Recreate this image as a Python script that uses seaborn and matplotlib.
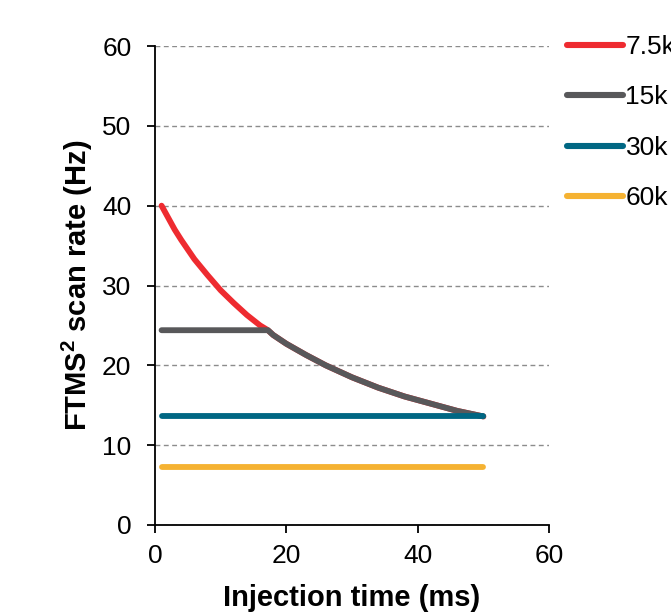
import matplotlib
matplotlib.use("Agg")
import matplotlib.pyplot as plt
import seaborn as sns
import pandas as pd

# Injection time (ms) and resulting FTMS2 scan rate (Hz) per resolution setting
res_labels = ["7.5k", "15k", "30k", "60k"]

it_75k = [1, 2, 3, 4, 5, 6, 8, 10, 12, 14, 16, 17.2, 18, 20, 23, 26, 30, 34, 38, 42, 46, 50]
rate_75k = [40.0, 38.5, 37.0, 35.7, 34.5, 33.3, 31.3, 29.4, 27.8, 26.3, 25.0, 24.4, 23.8,
            22.7, 21.3, 20.0, 18.5, 17.2, 16.1, 15.2, 14.3, 13.6]

it_15k = [1, 17.2, 18, 20, 23, 26, 30, 34, 38, 42, 46, 50]
rate_15k = [24.4, 24.4, 23.8, 22.7, 21.3, 20.0, 18.5, 17.2, 16.1, 15.2, 14.3, 13.6]

it_30k = [1, 50]
rate_30k = [13.65, 13.65]

it_60k = [1, 50]
rate_60k = [7.3, 7.3]

colors = ["#EE2B30", "#58585A", "#006783", "#F5B232"]

frames = []
for lab, xs, ys in zip(res_labels,
                       [it_75k, it_15k, it_30k, it_60k],
                       [rate_75k, rate_15k, rate_30k, rate_60k]):
    frames.append(pd.DataFrame({"it": xs, "rate": ys, "res": lab}))
df = pd.concat(frames, ignore_index=True)

sns.set_style("white")
plt.rcParams["font.family"] = ["Liberation Sans", "DejaVu Sans"]
plt.rcParams["text.color"] = "black"
plt.rcParams["axes.labelcolor"] = "black"
plt.rcParams["xtick.color"] = "black"
plt.rcParams["ytick.color"] = "black"

fig = plt.figure(figsize=(6.71, 6.15), dpi=100)
ax = fig.add_axes([155 / 671, 1 - 525 / 615, 394 / 671, 479 / 615])

sns.lineplot(data=df, x="it", y="rate", hue="res", hue_order=res_labels,
             palette=colors, linewidth=4.2, sort=False, estimator=None,
             solid_capstyle="round", ax=ax)

ax.set_xlim(0, 60)
ax.set_ylim(0, 60)
ax.set_xticks([0, 20, 40, 60])
ax.set_yticks([0, 10, 20, 30, 40, 50, 60])

ax.yaxis.grid(True, linestyle=(0, (3.5, 2.5)), color="#8C8C8C", linewidth=1.0)
ax.xaxis.grid(False)
ax.set_axisbelow(True)

for s in ["top", "right"]:
    ax.spines[s].set_visible(False)
for s in ["left", "bottom"]:
    ax.spines[s].set_color("black")
    ax.spines[s].set_linewidth(1.3)

ax.tick_params(axis="both", which="major", direction="out", length=6, width=1.3,
               color="black", labelcolor="black", labelsize=19, left=True, bottom=True)
ax.tick_params(axis="y", pad=11)
ax.tick_params(axis="x", pad=8)

ax.set_xlabel("Injection time (ms)", fontsize=21, fontweight="bold", labelpad=11)
ax.set_ylabel("FTMS$^{\\mathregular{2}}$ scan rate (Hz)", fontsize=21, fontweight="bold", labelpad=5)

# legend sits to the right of the plot area, running into the figure edge
leg = ax.legend(loc="upper left", bbox_to_anchor=(1.02, 1.045), frameon=False,
                fontsize=19, handlelength=2.1, handletextpad=0.1, labelspacing=1.0,
                borderaxespad=0)
for line in leg.get_lines():
    line.set_linewidth(4.4)
    line.set_solid_capstyle("round")

fig.savefig("out.png", dpi=100)
